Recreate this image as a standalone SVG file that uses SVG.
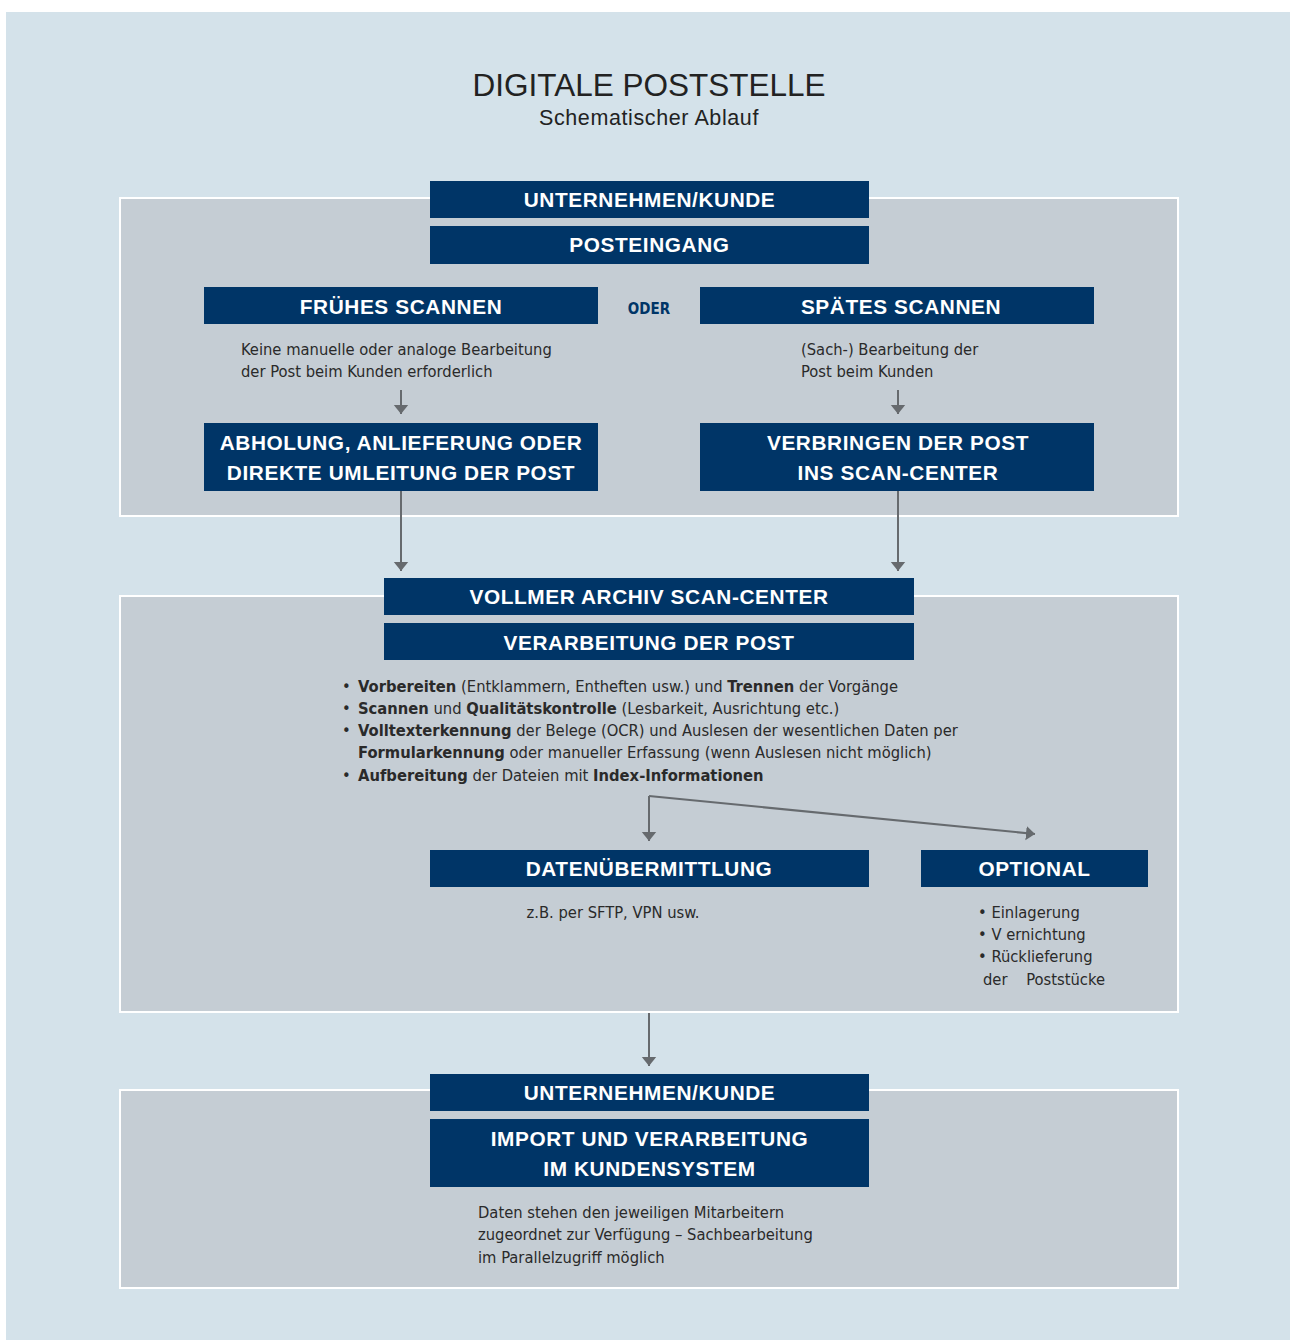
<svg xmlns="http://www.w3.org/2000/svg" width="1290" height="1340" viewBox="0 0 1290 1340">
<defs>
<style>
.bg{fill:#d4e2ea}
.panel{fill:#c5cdd4;stroke:#ffffff;stroke-width:2}
.box{fill:#003567}
.bt{font-family:"Liberation Sans",Arial,sans-serif;font-weight:bold;font-size:20.8px;fill:#ffffff;text-anchor:middle;letter-spacing:0.6px}
.tx{font-family:"DejaVu Sans Condensed","Liberation Sans Narrow","Liberation Sans",sans-serif;font-size:16.4px;fill:#2a2a2a}
.b{font-weight:bold}
.con{stroke:#666a6e;stroke-width:2;fill:none}
</style>
<marker id="ah2" viewBox="0 0 10 16" refX="10" refY="8" markerWidth="9" markerHeight="16" markerUnits="userSpaceOnUse" orient="auto">
<path d="M0,0 L10,8 L0,16 Z" fill="#666a6e"/>
</marker>
</defs>
<rect x="0" y="0" width="1290" height="1340" fill="#ffffff"/>
<rect class="bg" x="6" y="12" width="1284" height="1328"/>

<g id="title">
<text x="649" y="96" font-family="'Liberation Sans',Arial,sans-serif" font-size="31.5" fill="#222" text-anchor="middle">DIGITALE POSTSTELLE</text>
<text x="649" y="125" font-family="'Liberation Sans',Arial,sans-serif" font-size="21.5" letter-spacing="0.6" fill="#222" text-anchor="middle">Schematischer Ablauf</text>
</g>

<g id="panels">
<rect class="panel" x="120" y="198" width="1058" height="318"/>
<rect class="panel" x="120" y="596" width="1058" height="416"/>
<rect class="panel" x="120" y="1090" width="1058" height="198"/>
</g>

<g id="connectors">
<line class="con" x1="401" y1="390" x2="401" y2="414" marker-end="url(#ah2)"/>
<line class="con" x1="898" y1="390" x2="898" y2="414" marker-end="url(#ah2)"/>
<line class="con" x1="401" y1="491" x2="401" y2="571" marker-end="url(#ah2)"/>
<line class="con" x1="898" y1="491" x2="898" y2="571" marker-end="url(#ah2)"/>
<line class="con" x1="649" y1="796" x2="649" y2="841" marker-end="url(#ah2)"/>
<line class="con" x1="649" y1="796" x2="1035" y2="834" marker-end="url(#ah2)"/>
<line class="con" x1="649" y1="1013" x2="649" y2="1066" marker-end="url(#ah2)"/>
</g>

<g id="n-unternehmen1"><rect class="box" x="430" y="181" width="439" height="37"/><text class="bt" x="649.5" y="206.5">UNTERNEHMEN/KUNDE</text></g>
<g id="n-posteingang"><rect class="box" x="430" y="226" width="439" height="38"/><text class="bt" x="649.5" y="252">POSTEINGANG</text></g>

<g id="n-fruehes"><rect class="box" x="204" y="287" width="394" height="37"/><text class="bt" x="401" y="314">FRÜHES SCANNEN</text>
<text class="tx" x="241" y="355">Keine manuelle oder analoge Bearbeitung</text>
<text class="tx" x="241" y="377">der Post beim Kunden erforderlich</text></g>

<g id="oder"><text x="649" y="314" font-family="'DejaVu Sans Condensed','Liberation Sans',sans-serif" font-weight="bold" font-size="15" fill="#003567" text-anchor="middle">ODER</text></g>

<g id="n-spaetes"><rect class="box" x="700" y="287" width="394" height="37"/><text class="bt" x="901" y="314">SPÄTES SCANNEN</text>
<text class="tx" x="801" y="355">(Sach-) Bearbeitung der</text>
<text class="tx" x="801" y="377">Post beim Kunden</text></g>

<g id="n-abholung"><rect class="box" x="204" y="423" width="394" height="68"/><text class="bt" x="401" y="450">ABHOLUNG, ANLIEFERUNG ODER</text><text class="bt" x="401" y="480">DIREKTE UMLEITUNG DER POST</text></g>

<g id="n-verbringen"><rect class="box" x="700" y="423" width="394" height="68"/><text class="bt" x="898" y="450">VERBRINGEN DER POST</text><text class="bt" x="898" y="480">INS SCAN-CENTER</text></g>

<g id="n-vollmer"><rect class="box" x="384" y="578" width="530" height="37"/><text class="bt" x="649" y="604">VOLLMER ARCHIV SCAN-CENTER</text></g>
<g id="n-verarbeitung"><rect class="box" x="384" y="623" width="530" height="37"/><text class="bt" x="649" y="650">VERARBEITUNG DER POST</text>
<text class="tx" x="342" y="692">•</text><text class="tx" x="358" y="692"><tspan class="b">Vorbereiten</tspan> (Entklammern, Entheften usw.) und <tspan class="b">Trennen</tspan> der Vorgänge</text>
<text class="tx" x="342" y="714">•</text><text class="tx" x="358" y="714"><tspan class="b">Scannen</tspan> und <tspan class="b">Qualitätskontrolle</tspan> (Lesbarkeit, Ausrichtung etc.)</text>
<text class="tx" x="342" y="736">•</text><text class="tx" x="358" y="736"><tspan class="b">Volltexterkennung</tspan> der Belege (OCR) und Auslesen der wesentlichen Daten per</text>
<text class="tx" x="358" y="758"><tspan class="b">Formularkennung</tspan> oder manueller Erfassung (wenn Auslesen nicht möglich)</text>
<text class="tx" x="342" y="781">•</text><text class="tx" x="358" y="781"><tspan class="b">Aufbereitung</tspan> der Dateien mit <tspan class="b">Index-Informationen</tspan></text>
</g>

<g id="n-daten"><rect class="box" x="430" y="850" width="439" height="37"/><text class="bt" x="649" y="876">DATENÜBERMITTLUNG</text>
<text class="tx" x="613" y="918" text-anchor="middle">z.B. per SFTP, VPN usw.</text></g>

<g id="n-optional"><rect class="box" x="921" y="850" width="227" height="37"/><text class="bt" x="1034.5" y="876">OPTIONAL</text>
<text class="tx" x="978" y="918">• Einlagerung</text>
<text class="tx" x="978" y="940">• V ernichtung</text>
<text class="tx" x="978" y="962">• Rücklieferung</text>
<text class="tx" x="983" y="985" xml:space="preserve">der    Poststücke</text></g>

<g id="n-unternehmen2"><rect class="box" x="430" y="1074" width="439" height="37"/><text class="bt" x="649.5" y="1100">UNTERNEHMEN/KUNDE</text></g>
<g id="n-import"><rect class="box" x="430" y="1119" width="439" height="68"/><text class="bt" x="649.5" y="1146">IMPORT UND VERARBEITUNG</text><text class="bt" x="649.5" y="1176">IM KUNDENSYSTEM</text>
<text class="tx" x="478" y="1218">Daten stehen den jeweiligen Mitarbeitern</text>
<text class="tx" x="478" y="1240">zugeordnet zur Verfügung – Sachbearbeitung</text>
<text class="tx" x="478" y="1263">im Parallelzugriff möglich</text></g>
</svg>
